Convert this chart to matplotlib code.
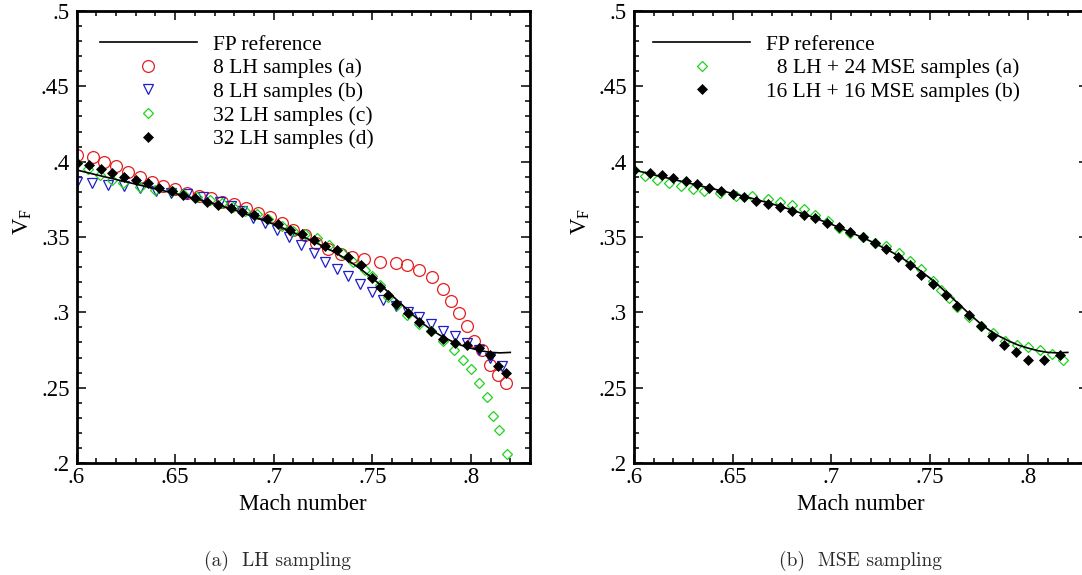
import matplotlib
matplotlib.use("Agg")
import matplotlib.pyplot as plt
from matplotlib.ticker import MultipleLocator

plt.rcParams['font.family'] = ['Liberation Serif', 'DejaVu Serif']
plt.rcParams['mathtext.fontset'] = 'custom'
plt.rcParams['mathtext.rm'] = 'Liberation Serif'
plt.rcParams['mathtext.it'] = 'Liberation Serif:italic'

# ---------------- data ----------------
fp_mach = [0.600, 0.610, 0.620, 0.630, 0.640, 0.650, 0.660, 0.670, 0.680, 0.690,
           0.700, 0.710, 0.720, 0.730, 0.735, 0.740, 0.745, 0.750, 0.755, 0.760,
           0.765, 0.770, 0.775, 0.780, 0.785, 0.790, 0.795, 0.800, 0.805, 0.810,
           0.815, 0.820]
fp_vf = [0.3945, 0.3913, 0.3882, 0.3851, 0.3820, 0.3789, 0.3756, 0.3720, 0.3680, 0.3634,
         0.3585, 0.3530, 0.3472, 0.3405, 0.3368, 0.3325, 0.3278, 0.3228, 0.3172, 0.3112,
         0.3052, 0.2990, 0.2933, 0.2883, 0.2843, 0.2810, 0.2782, 0.2762, 0.2745, 0.2734,
         0.2731, 0.2734]

# (a) LH sampling
lh8a_mach = [0.600, 0.6082, 0.614, 0.620, 0.626, 0.6322, 0.6382, 0.644, 0.650, 0.6559,
             0.6623, 0.6681, 0.674, 0.6799, 0.686, 0.6919, 0.6982, 0.7041, 0.710, 0.7159,
             0.7215, 0.7278, 0.734, 0.7399, 0.746, 0.754, 0.7621, 0.7675, 0.7738, 0.7802,
             0.7861, 0.790, 0.7942, 0.798, 0.8017, 0.8059, 0.8098, 0.814, 0.8179]
lh8a_vf = [0.4045, 0.4030, 0.4000, 0.3974, 0.3934, 0.3901, 0.3868, 0.3839, 0.3817, 0.3795,
           0.3775, 0.3758, 0.3735, 0.3720, 0.3691, 0.3662, 0.3632, 0.3592, 0.3547, 0.3514,
           0.3459, 0.3421, 0.3388, 0.3370, 0.3353, 0.3333, 0.3327, 0.3311, 0.3278, 0.3234,
           0.3154, 0.3072, 0.2995, 0.2906, 0.2811, 0.2751, 0.2652, 0.2586, 0.2531]

lh8b_mach = [0.600, 0.608, 0.6161, 0.6241, 0.6322, 0.6402, 0.6479, 0.6559, 0.6643, 0.6728,
             0.6782, 0.6838, 0.6897, 0.6956, 0.7016, 0.708, 0.7137, 0.7202, 0.7261, 0.732,
             0.7379, 0.7438, 0.7498, 0.7557, 0.7621, 0.768, 0.7739, 0.7799, 0.7861, 0.792,
             0.798, 0.8039, 0.8098, 0.8157]
lh8b_vf = [0.3868, 0.3857, 0.3846, 0.3839, 0.3824, 0.3808, 0.3791, 0.3786, 0.3764, 0.3735,
           0.3707, 0.3673, 0.3625, 0.3596, 0.3547, 0.3499, 0.3448, 0.3393, 0.3337, 0.3289,
           0.3238, 0.3189, 0.3138, 0.3083, 0.3039, 0.3002, 0.2966, 0.2922, 0.2873, 0.2840,
           0.2796, 0.2751, 0.2696, 0.2647]

lh32c_mach = [0.600, 0.606, 0.6119, 0.6179, 0.6237, 0.6322, 0.6398, 0.6483, 0.6542, 0.661,
              0.6677, 0.6737, 0.6796, 0.6855, 0.6914, 0.6973, 0.7041, 0.710, 0.7159, 0.7219,
              0.7283, 0.7345, 0.7404, 0.7464, 0.7498, 0.754, 0.7582, 0.7625, 0.7678, 0.7738,
              0.7799, 0.7858, 0.7917, 0.7959, 0.800, 0.8042, 0.8081, 0.8112, 0.8142, 0.8183]
lh32c_vf = [0.3994, 0.3950, 0.3912, 0.3879, 0.3857, 0.3835, 0.3813, 0.3806, 0.3786, 0.3764,
            0.3746, 0.3724, 0.3698, 0.3675, 0.3652, 0.3620, 0.3574, 0.3543, 0.3521, 0.3492,
            0.3448, 0.3393, 0.3337, 0.3282, 0.3238, 0.3183, 0.3105, 0.3050, 0.2979, 0.2922,
            0.2873, 0.2807, 0.2747, 0.2685, 0.2623, 0.2531, 0.2438, 0.2309, 0.2216, 0.2060]

lh32d_mach = [0.600, 0.6063, 0.6123, 0.6181, 0.6242, 0.6302, 0.6364, 0.642, 0.6483, 0.6542,
              0.6601, 0.6661, 0.672, 0.6782, 0.6841, 0.6902, 0.6965, 0.7024, 0.7083, 0.7142,
              0.7202, 0.7261, 0.732, 0.7379, 0.7442, 0.7501, 0.754, 0.7582, 0.7621, 0.768,
              0.7739, 0.7799, 0.7861, 0.792, 0.798, 0.8039, 0.8098, 0.814, 0.8179]
lh32d_vf = [0.3990, 0.3979, 0.3952, 0.3928, 0.3901, 0.3879, 0.3857, 0.3828, 0.3806, 0.3780,
            0.3757, 0.3735, 0.3713, 0.3691, 0.3669, 0.3647, 0.3618, 0.3585, 0.3548, 0.3519,
            0.3477, 0.3437, 0.3415, 0.3370, 0.3315, 0.3231, 0.3171, 0.3112, 0.3055, 0.2995,
            0.2939, 0.2873, 0.2825, 0.2796, 0.2783, 0.2765, 0.2720, 0.2641, 0.2597]

# (b) MSE sampling
mse_a_mach = [0.600, 0.6056, 0.6118, 0.6179, 0.6239, 0.6298, 0.6357, 0.6437, 0.6518, 0.6598,
              0.6679, 0.6742, 0.6801, 0.686, 0.692, 0.6982, 0.7038, 0.7098, 0.716, 0.722,
              0.728, 0.7343, 0.7402, 0.7458, 0.7518, 0.7558, 0.7597, 0.764, 0.7699, 0.7758,
              0.7823, 0.7882, 0.7941, 0.800, 0.8059, 0.8119, 0.8178]
mse_a_vf = [0.3945, 0.3908, 0.3879, 0.3857, 0.3839, 0.3819, 0.3806, 0.3791, 0.3773, 0.3773,
            0.3751, 0.3735, 0.3713, 0.3685, 0.3647, 0.3603, 0.3559, 0.3524, 0.3499, 0.3463,
            0.3437, 0.3393, 0.3344, 0.3287, 0.3205, 0.3150, 0.3094, 0.3035, 0.2968, 0.2911,
            0.2862, 0.2813, 0.2780, 0.2769, 0.2751, 0.2723, 0.2685]

mse_b_mach = [0.600, 0.6081, 0.6141, 0.620, 0.6263, 0.6322, 0.6381, 0.6441, 0.6502, 0.656,
              0.662, 0.6679, 0.6738, 0.6801, 0.686, 0.692, 0.6979, 0.7038, 0.7098, 0.716,
              0.722, 0.728, 0.734, 0.7399, 0.7458, 0.7518, 0.758, 0.764, 0.7699, 0.7758,
              0.7818, 0.7877, 0.7938, 0.800, 0.8077, 0.816]
mse_b_vf = [0.3945, 0.3928, 0.3912, 0.3890, 0.3874, 0.3853, 0.3828, 0.3806, 0.3786, 0.3764,
            0.3742, 0.3720, 0.3698, 0.3673, 0.3649, 0.3625, 0.3596, 0.3565, 0.3536, 0.3501,
            0.3463, 0.3421, 0.3370, 0.3315, 0.3249, 0.3189, 0.3116, 0.3043, 0.2984, 0.2906,
            0.2844, 0.2780, 0.2734, 0.2683, 0.2683, 0.2715]

xticks = [0.60, 0.65, 0.70, 0.75, 0.80]
xtick_labels = ['.6', '.65', '.7', '.75', '.8']
yticks = [0.20, 0.25, 0.30, 0.35, 0.40, 0.45, 0.50]
ytick_labels = ['.2', '.25', '.3', '.35', '.4', '.45', '.5']

# ---------------- styles ----------------
RED = '#e41e1e'
BLUE = '#1e1ec8'
GREEN = '#1ed21e'
W, H = 1082, 575

fig = plt.figure(figsize=(W / 100, H / 100), dpi=100)
ax1 = fig.add_axes([76.5 / W, (H - 463) / H, 453.5 / W, 452 / H])
ax2 = fig.add_axes([634 / W, (H - 463) / H, 453.5 / W, 452 / H])

TICK_FS = 16.5
LEG_FS = 15.5


def style_axes(ax):
    ax.set_xlim(0.6, 0.83)
    ax.set_ylim(0.2, 0.5)
    ax.set_xticks(xticks)
    ax.set_xticklabels(xtick_labels)
    ax.set_yticks(yticks)
    ax.set_yticklabels(ytick_labels)
    ax.xaxis.set_minor_locator(MultipleLocator(0.01))
    ax.yaxis.set_minor_locator(MultipleLocator(0.01))
    ax.tick_params(which='both', direction='in', top=True, right=True, width=1.1,
                   labelsize=TICK_FS)
    ax.tick_params(which='major', length=6.5)
    ax.tick_params(which='minor', length=3.5)
    ax.tick_params(axis='x', pad=3)
    ax.tick_params(axis='y', pad=5)
    for s in ax.spines.values():
        s.set_linewidth(2.0)
    ax.set_xlabel('Mach number', fontsize=TICK_FS, labelpad=4.5)
    ax.set_ylabel(r'$\mathrm{V}_{\mathrm{F}}$', fontsize=TICK_FS)
    ax.yaxis.set_label_coords(-0.093, 0.535)


style_axes(ax1)
style_axes(ax2)

# left panel
ax1.plot(fp_mach, fp_vf, color='black', lw=1.2, label='FP reference', zorder=3)
ax1.plot(lh8a_mach, lh8a_vf, ls='none', marker='o', ms=8.5, mfc='none', mec=RED, mew=0.9,
         label='8 LH samples (a)', zorder=2)
ax1.plot(lh8b_mach, lh8b_vf, ls='none', marker='v', ms=7.5, mfc='none', mec=BLUE, mew=0.9,
         label='8 LH samples (b)', zorder=2)
ax1.plot(lh32c_mach, lh32c_vf, ls='none', marker='D', ms=4.6, mfc='none', mec=GREEN, mew=0.9,
         label='32 LH samples (c)', zorder=2)
ax1.plot(lh32d_mach, lh32d_vf, ls='none', marker='D', ms=5.0, mfc='black', mec='black', mew=0.5,
         label='32 LH samples (d)', zorder=4)

# right panel
ax2.plot(fp_mach, fp_vf, color='black', lw=1.2, label='FP reference', zorder=3)
ax2.plot(mse_a_mach, mse_a_vf, ls='none', marker='D', ms=5.2, mfc='none', mec=GREEN, mew=0.9,
         label='  8 LH + 24 MSE samples (a)', zorder=2)
ax2.plot(mse_b_mach, mse_b_vf, ls='none', marker='D', ms=5.0, mfc='black', mec='black', mew=0.5,
         label='16 LH + 16 MSE samples (b)', zorder=4)

leg_kw = dict(loc='upper left', frameon=False, fontsize=LEG_FS, numpoints=1,
              handlelength=4.5, handletextpad=0.75, labelspacing=0.17,
              borderpad=0, borderaxespad=0)
ax1.legend(bbox_to_anchor=((100 - 76.5) / 453.5, (463 - 34.5) / 452), **leg_kw)
ax2.legend(bbox_to_anchor=((653.3 - 634) / 453.5, (463 - 34.5) / 452), **leg_kw)

# sub-captions
fig.text(277 / W, 1 - 561 / H, '(a)  LH sampling', ha='center', va='center',
         fontsize=14, family=['cmr10', 'DejaVu Serif'], color='#2a2a2a')
fig.text(860 / W, 1 - 561 / H, '(b)  MSE sampling', ha='center', va='center',
         fontsize=14, family=['cmr10', 'DejaVu Serif'], color='#2a2a2a')

fig.savefig('out.png', dpi=100)
